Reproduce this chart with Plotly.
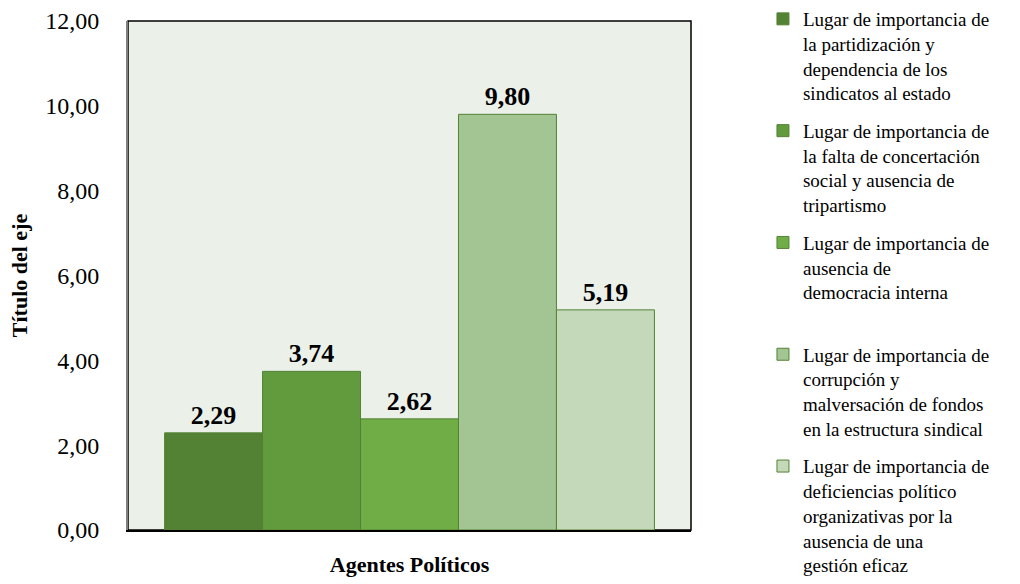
import plotly.graph_objects as go

# datos
categoria = ["Agentes Políticos"]
series = [
    "Lugar de importancia de<br>la partidización y<br>dependencia de los<br>sindicatos al estado",
    "Lugar de importancia de<br>la falta de concertación<br>social y ausencia de<br>tripartismo",
    "Lugar de importancia de<br>ausencia de<br>democracia interna<br> ",
    "Lugar de importancia de<br>corrupción y<br>malversación de fondos<br>en la estructura sindical",
    "Lugar de importancia de<br>deficiencias político<br>organizativas por la<br>ausencia de una<br>gestión eficaz",
]
valores = [2.29, 3.74, 2.62, 9.80, 5.19]
colores = ["#548235", "#629B3E", "#70AD47", "#A3C493", "#C4D8BA"]

FUENTE = "Liberation Serif, Times New Roman, serif"

fig = go.Figure()
for i, (nombre, v, c) in enumerate(zip(series, valores, colores)):
    fig.add_trace(go.Bar(
        x=categoria, y=[v], name=nombre, legendgroup=f"g{i}",
        marker=dict(color=c, line=dict(color="#548235", width=1)),
        texttemplate="%{y:.2f}", textposition="outside",
        textfont=dict(family=FUENTE, size=26, color="black", weight="bold"),
        cliponaxis=False,
    ))

fig.update_layout(
    width=1020, height=584,
    separators=",.",
    barmode="group", bargap=0.13, bargroupgap=0,
    plot_bgcolor="#EBF0E9", paper_bgcolor="white",
    margin=dict(l=128, r=329, t=21, b=54, autoexpand=False),
    font=dict(family=FUENTE, color="black"),
    showlegend=True,
    legend=dict(
        xref="container", yref="container",
        x=0.748, xanchor="left", y=1.0, yanchor="top",
        font=dict(family=FUENTE, size=19, color="black"),
        valign="top", tracegroupgap=10, itemwidth=30,
        bgcolor="rgba(0,0,0,0)", maxheight=1.0,
    ),
    shapes=[dict(type="rect", xref="paper", yref="paper", x0=0, x1=1, y0=0, y1=1,
                 line=dict(color="black", width=1.5), layer="below")],
)

fig.update_xaxes(
    showline=True, linecolor="black", linewidth=1.5, automargin=False,
    tickfont=dict(family=FUENTE, size=22, color="black", weight="bold"),
    ticks="", ticklabelstandoff=14,
)
fig.update_yaxes(
    range=[0, 12], dtick=2, tickformat=".2f", automargin=False,
    showgrid=False, zeroline=False,
    showline=True, linecolor="#808080", linewidth=2,
    tickfont=dict(family=FUENTE, size=24, color="black"),
    ticks="", ticklabelstandoff=22,
    title=dict(text="Título del eje", font=dict(family=FUENTE, size=22, color="black", weight="bold"), standoff=12),
)

# quitar el margen del body para que la figura ocupe toda la ventana
fig.write_html("out.html", config={"displayModeBar": False},
               post_script="document.body.style.margin='0';")
